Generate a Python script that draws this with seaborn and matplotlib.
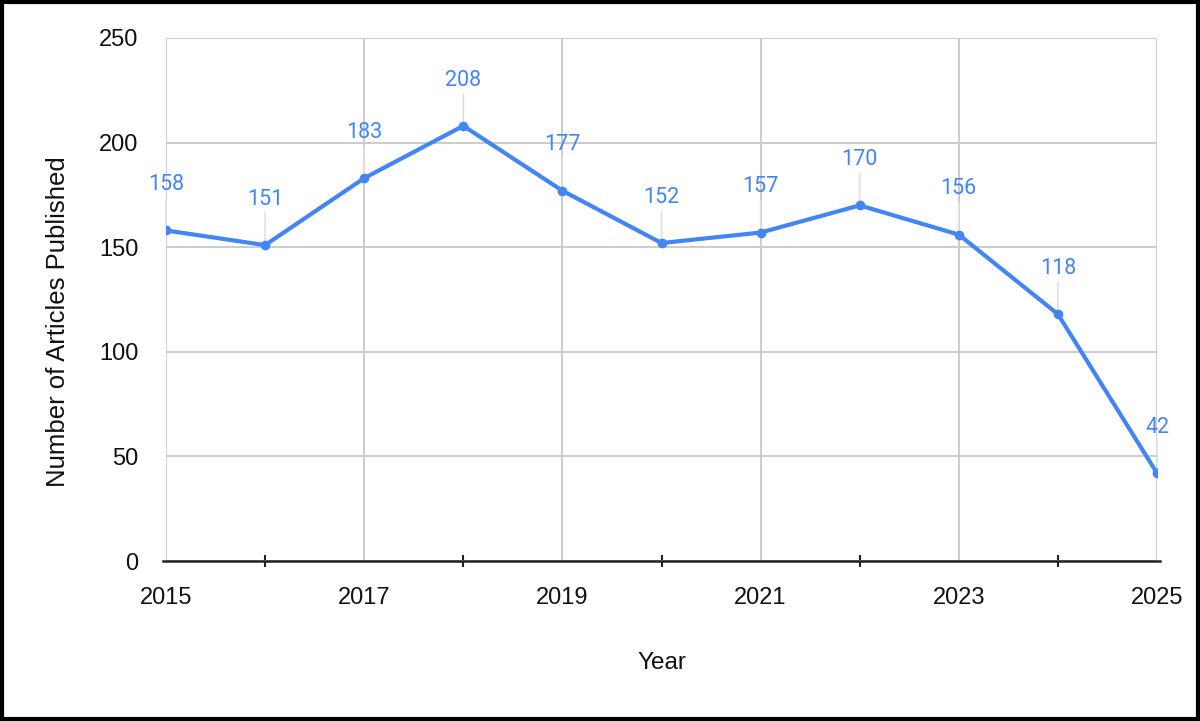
import matplotlib
matplotlib.use("Agg")
import matplotlib.pyplot as plt
import matplotlib.patches as mpatches
from matplotlib.ticker import FixedLocator
import seaborn as sns
import pandas as pd

years = [2015, 2016, 2017, 2018, 2019, 2020, 2021, 2022, 2023, 2024, 2025]
articles = [158, 151, 183, 208, 177, 152, 157, 170, 156, 118, 42]
x_label_years = [2015, 2017, 2019, 2021, 2023, 2025]
y_ticks = [0, 50, 100, 150, 200, 250]

sns.set_theme(style="white")
plt.rcParams['font.family'] = ['Liberation Sans', 'DejaVu Sans']

df = pd.DataFrame({"Year": years, "Articles": articles})
blue = "#4285F4"

fig = plt.figure(figsize=(12, 7.21), dpi=100)
ax = fig.add_axes([166/1200, 1 - 561/721, (1157 - 166)/1200, (561 - 38)/721])

sns.lineplot(data=df, x="Year", y="Articles", ax=ax, color=blue, linewidth=3,
             marker="o", markersize=7, markeredgewidth=0, zorder=5)

ax.set_xlim(2015, 2025)
ax.set_ylim(0, 250)
ax.set_yticks(y_ticks)
ax.xaxis.set_major_locator(FixedLocator(x_label_years))
ax.xaxis.set_minor_locator(FixedLocator([y for y in years if y not in x_label_years]))

ax.grid(True, which="major", axis="both", color="#cccccc", linewidth=1.4, zorder=0)
ax.set_axisbelow(True)
for s in ["top", "right", "left"]:
    ax.spines[s].set_visible(False)
ax.spines["bottom"].set_color("#222222")
ax.spines["bottom"].set_linewidth(1.8)
ax.spines["bottom"].set_bounds(2014.97, 2025.03)
ax.spines["bottom"].set_zorder(6)

ax.tick_params(axis="y", which="both", left=False, length=0, pad=20, labelsize=17, labelcolor="#111111")
ax.tick_params(axis="x", which="major", bottom=True, length=0, pad=19, labelsize=17, labelcolor="#111111")
ax.tick_params(axis="x", which="minor", bottom=True, direction="inout", length=8.5, width=1.5, color="#222222")

ax.set_xlabel("Year", fontsize=17.5, color="#111111", labelpad=31)
ax.set_ylabel("Number of Articles Published", fontsize=18.5, color="#111111")
ax.yaxis.set_label_coords(-0.097, 0.457)

for x, y in zip(years, articles):
    ax.annotate(str(y), xy=(x, y), xytext=(0, 33), textcoords="offset points",
                ha="center", va="center", fontsize=15.5, color=blue,
                family=["Roboto", "DejaVu Sans"], zorder=7)
    ax.annotate("", xy=(x, y), xytext=(0, 23), textcoords="offset points",
                arrowprops=dict(arrowstyle="-", color="#e0e0e0", lw=1.2,
                                shrinkA=0, shrinkB=3), zorder=4)

fig.patches.append(mpatches.Rectangle((0.0015, 0.0025), 0.997, 0.995, transform=fig.transFigure,
                                      fill=False, edgecolor="black", linewidth=3))

fig.savefig("out.png", dpi=100)
